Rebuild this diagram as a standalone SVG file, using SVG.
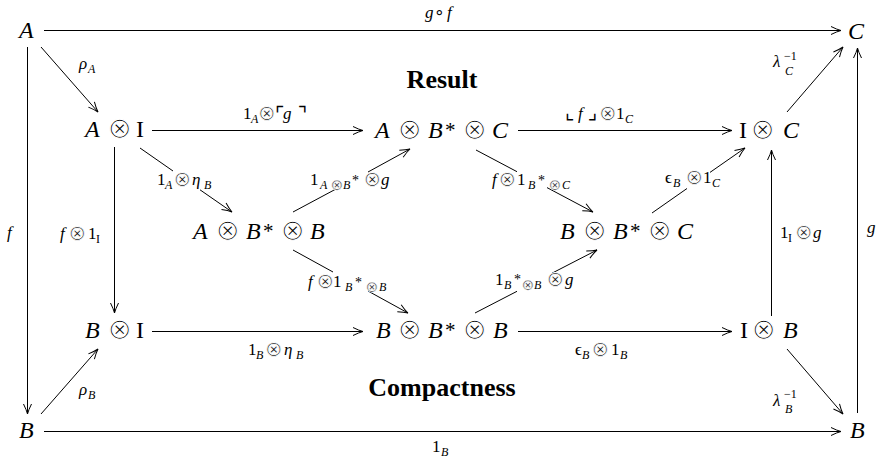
<svg xmlns="http://www.w3.org/2000/svg" width="877" height="459" viewBox="0 0 877 459">
<defs>
<style>
text { font-family: "Liberation Serif", "DejaVu Serif", serif; fill: #000; }
.m { font-size: 24px; }
.l { font-size: 17px; }
.s { font-size: 12px; }
.ss { font-size: 14px; }
.st { font-size: 21px; }
.i { font-style: italic; }
.om { font-family: "DejaVu Sans", sans-serif; font-size: 29px; stroke: #fff; stroke-width: 1.2px; }
.ol { font-family: "DejaVu Sans", sans-serif; font-size: 21px; stroke: #fff; stroke-width: 0.8px; }
.os { font-family: "DejaVu Sans", sans-serif; font-size: 15px; stroke: #fff; stroke-width: 0.5px; }
.o { font-family: "DejaVu Sans", sans-serif; }
.cn { font-family: "DejaVu Sans", "Noto Sans CJK SC", sans-serif; font-size: 20px; }
.t { font-size: 26px; font-weight: bold; text-anchor: middle; }
.e { fill: none; stroke: #000; stroke-width: 1; }
.a { marker-end: url(#ah); }
</style>
<marker id="ah" markerWidth="12" markerHeight="10" refX="11" refY="5" orient="auto" markerUnits="userSpaceOnUse" viewBox="0 0 12 10">
<path d="M1,1 Q7,4 11,5 Q7,6 1,9" fill="none" stroke="#000" stroke-width="1"/>
</marker>
</defs>

<g id="connectors">
  <g id="e-top"><path class="e a" d="M44 30.5 H841"/>
    <text class="l"><tspan class="i" x="425" y="18">g</tspan><tspan class="o" x="434" y="18">∘</tspan><tspan class="i" x="447" y="18">f</tspan></text></g>
  <g id="e-bottom"><path class="e a" d="M44 431.5 H841"/>
    <text class="l"><tspan x="432" y="452">1</tspan><tspan class="s i" x="441" y="456">B</tspan></text></g>
  <g id="e-left"><path class="e a" d="M27.5 47 V414"/>
    <text class="l i" x="7" y="238">f</text></g>
  <g id="e-right"><path class="e a" d="M857.5 413 V48"/>
    <text class="l i" x="867" y="233">g</text></g>
  <g id="e-rhoA"><path class="e a" d="M41 47 L98 112"/>
    <text class="l"><tspan class="i" x="79" y="69">ρ</tspan><tspan class="s i" x="88" y="73">A</tspan></text></g>
  <g id="e-rhoB"><path class="e a" d="M41 414 L98 349"/>
    <text class="l"><tspan class="i" x="79" y="395">ρ</tspan><tspan class="s i" x="88" y="399">B</tspan></text></g>
  <g id="e-lamC"><path class="e a" d="M787 112 L843 47"/>
    <text class="l"><tspan class="i" x="773" y="67">λ</tspan><tspan class="s" x="784" y="60">−1</tspan><tspan class="s i" x="785" y="75">C</tspan></text></g>
  <g id="e-lamB"><path class="e a" d="M787 349 L843 414"/>
    <text class="l"><tspan class="i" x="773" y="406">λ</tspan><tspan class="s" x="784" y="398">−1</tspan><tspan class="s i" x="785" y="413">B</tspan></text></g>
  <g id="e-h1"><path class="e a" d="M152 130.5 H363"/>
    <text class="l"><tspan x="243" y="119">1</tspan><tspan class="s i" x="251" y="123">A</tspan><tspan class="ol" x="258" y="120">⊗</tspan><tspan class="cn" x="275" y="121">⌜</tspan><tspan class="i" x="283" y="119">g</tspan><tspan class="cn" x="298" y="121">⌝</tspan></text></g>
  <g id="e-h2"><path class="e a" d="M518 130.5 H732"/>
    <text class="l"><tspan class="cn" x="565" y="119">⌞</tspan><tspan class="i" x="578" y="119">f</tspan><tspan class="cn" x="588" y="119">⌟</tspan><tspan class="ol" x="599" y="120">⊗</tspan><tspan x="616" y="119">1</tspan><tspan class="s i" x="625" y="123">C</tspan></text></g>
  <g id="e-h3"><path class="e a" d="M152 331.5 H363"/>
    <text class="l"><tspan x="248" y="355">1</tspan><tspan class="s i" x="256" y="359">B</tspan><tspan class="ol" x="265" y="356">⊗</tspan><tspan class="i" x="284" y="355">η</tspan><tspan class="s i" x="296" y="359">B</tspan></text></g>
  <g id="e-h4"><path class="e a" d="M518 331.5 H732"/>
    <text class="l"><tspan x="575" y="355">ϵ</tspan><tspan class="s i" x="582" y="359">B</tspan><tspan class="ol" x="591.5" y="356">⊗</tspan><tspan x="611" y="355">1</tspan><tspan class="s i" x="620" y="359">B</tspan></text></g>
  <g id="e-v1"><path class="e a" d="M114.5 147 V313"/>
    <text class="l"><tspan class="i" x="60" y="239">f</tspan><tspan class="ol" x="68.5" y="240">⊗</tspan><tspan x="88" y="239">1</tspan><tspan class="s" x="96" y="243">I</tspan></text></g>
  <g id="e-v2"><path class="e a" d="M771.5 316 V150"/>
    <text class="l"><tspan x="780" y="238">1</tspan><tspan class="s" x="788" y="242">I</tspan><tspan class="ol" x="795" y="239">⊗</tspan><tspan class="i" x="813" y="238">g</tspan></text></g>
  <g id="e-d1"><path class="e" d="M140 148 L173 171"/><path class="e a" d="M200 189.8 L232 212"/>
    <text class="l"><tspan x="157" y="185">1</tspan><tspan class="s i" x="165" y="189">A</tspan><tspan class="ol" x="173.5" y="186">⊗</tspan><tspan class="i" x="192" y="185">η</tspan><tspan class="s i" x="204" y="189">B</tspan></text></g>
  <g id="e-d2"><path class="e" d="M293 212 L336 189"/><path class="e a" d="M368 172 L410 149"/>
    <text class="l"><tspan x="310" y="185">1</tspan><tspan class="s i" x="320" y="189">A</tspan><tspan class="os" x="330.8" y="189.5">⊗</tspan><tspan class="s i" x="343" y="189">B</tspan><tspan class="ss" x="352" y="185">*</tspan><tspan class="ol" x="363.5" y="186">⊗</tspan><tspan class="i" x="381" y="185">g</tspan></text></g>
  <g id="e-d3"><path class="e" d="M476 150 L517 171.7"/><path class="e a" d="M547 187.6 L593 212"/>
    <text class="l"><tspan class="i" x="492" y="185">f</tspan><tspan class="ol" x="498.5" y="186">⊗</tspan><tspan x="517" y="185">1</tspan><tspan class="s i" x="528" y="189">B</tspan><tspan class="ss" x="538" y="185">*</tspan><tspan class="os" x="548.8" y="189.5">⊗</tspan><tspan class="s i" x="562" y="189">C</tspan></text></g>
  <g id="e-d4"><path class="e" d="M652 213 L687 188.5"/><path class="e a" d="M710 172.4 L745 148"/>
    <text class="l"><tspan x="665" y="183">ϵ</tspan><tspan class="s i" x="673" y="187">B</tspan><tspan class="ol" x="685.5" y="184">⊗</tspan><tspan x="703" y="183">1</tspan><tspan class="s i" x="712" y="187">C</tspan></text></g>
  <g id="e-d5"><path class="e" d="M293 250 L333 272"/><path class="e a" d="M368 291 L408 313"/>
    <text class="l"><tspan class="i" x="308" y="287">f</tspan><tspan class="ol" x="316.5" y="288">⊗</tspan><tspan x="333" y="287">1</tspan><tspan class="s i" x="345" y="291">B</tspan><tspan class="ss" x="355" y="287">*</tspan><tspan class="os" x="365.8" y="291.5">⊗</tspan><tspan class="s i" x="379" y="291">B</tspan></text></g>
  <g id="e-d6"><path class="e" d="M475 313 L517 291.3"/><path class="e a" d="M552 273.2 L597 250"/>
    <text class="l"><tspan x="495" y="285">1</tspan><tspan class="s i" x="504" y="289">B</tspan><tspan class="ss" x="514" y="284">*</tspan><tspan class="os" x="521.8" y="289.5">⊗</tspan><tspan class="s i" x="534" y="289">B</tspan><tspan class="ol" x="546.5" y="286">⊗</tspan><tspan class="i" x="565" y="285">g</tspan></text></g>
</g>

<g id="n-A"><text class="m i" x="19" y="38">A</text></g>
<g id="n-C"><text class="m i" x="848" y="39">C</text></g>
<g id="n-AI"><text class="m"><tspan class="i" x="85" y="137">A</tspan><tspan class="om" x="107.5" y="138">⊗</tspan><tspan x="136" y="137">I</tspan></text></g>
<g id="n-ABC"><text class="m"><tspan class="i" x="375" y="138">A</tspan><tspan class="om" x="397.5" y="139">⊗</tspan><tspan class="i" x="428" y="138">B</tspan><tspan class="st" x="445" y="137">*</tspan><tspan class="om" x="462.5" y="139">⊗</tspan><tspan class="i" x="492" y="138">C</tspan></text></g>
<g id="n-IC"><text class="m"><tspan x="739" y="138">I</tspan><tspan class="om" x="750.5" y="139">⊗</tspan><tspan class="i" x="783" y="138">C</tspan></text></g>
<g id="n-ABB"><text class="m"><tspan class="i" x="193" y="239">A</tspan><tspan class="om" x="215.5" y="240">⊗</tspan><tspan class="i" x="246" y="239">B</tspan><tspan class="st" x="263" y="238">*</tspan><tspan class="om" x="280.5" y="240">⊗</tspan><tspan class="i" x="310" y="239">B</tspan></text></g>
<g id="n-BBC"><text class="m"><tspan class="i" x="560" y="239">B</tspan><tspan class="om" x="582.5" y="240">⊗</tspan><tspan class="i" x="613" y="239">B</tspan><tspan class="st" x="630" y="238">*</tspan><tspan class="om" x="647.5" y="240">⊗</tspan><tspan class="i" x="677" y="239">C</tspan></text></g>
<g id="n-BI"><text class="m"><tspan class="i" x="85" y="338">B</tspan><tspan class="om" x="107.5" y="339">⊗</tspan><tspan x="136" y="338">I</tspan></text></g>
<g id="n-BBB"><text class="m"><tspan class="i" x="376" y="338">B</tspan><tspan class="om" x="397.5" y="339">⊗</tspan><tspan class="i" x="428" y="338">B</tspan><tspan class="st" x="445" y="337">*</tspan><tspan class="om" x="462.5" y="339">⊗</tspan><tspan class="i" x="493" y="338">B</tspan></text></g>
<g id="n-IB"><text class="m"><tspan x="740" y="338">I</tspan><tspan class="om" x="751.5" y="339">⊗</tspan><tspan class="i" x="783" y="338">B</tspan></text></g>
<g id="n-B"><text class="m i" x="19" y="438">B</text></g>
<g id="n-B2"><text class="m i" x="850" y="438">B</text></g>

<g id="title-result"><text class="t" x="442" y="88">Result</text></g>
<g id="title-compact"><text class="t" x="442" y="396">Compactness</text></g>
</svg>
